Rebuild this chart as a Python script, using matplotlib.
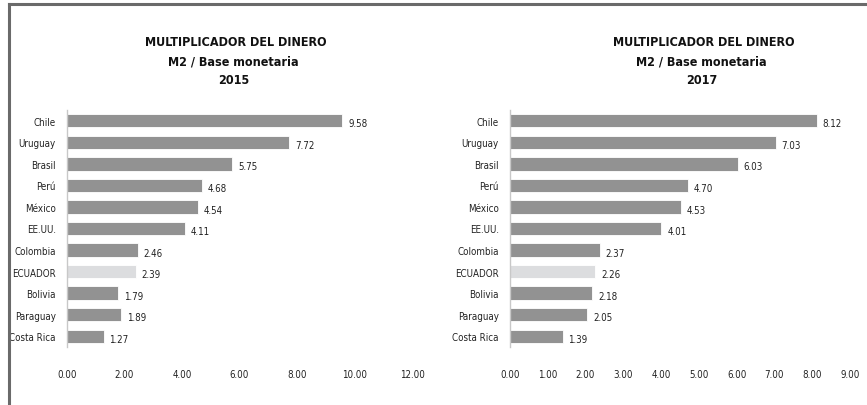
import matplotlib.pyplot as plt
from matplotlib.lines import Line2D

plt.rcParams['font.family'] = ['DejaVu Sans']
plt.rcParams['font.stretch'] = 'condensed'

paises = ['Chile', 'Uruguay', 'Brasil', 'Perú', 'México', 'EE.UU.', 'Colombia',
          'ECUADOR', 'Bolivia', 'Paraguay', 'Costa Rica']
m2_2015 = [9.58, 7.72, 5.75, 4.68, 4.54, 4.11, 2.46, 2.39, 1.79, 1.89, 1.27]
m2_2017 = [8.12, 7.03, 6.03, 4.70, 4.53, 4.01, 2.37, 2.26, 2.18, 2.05, 1.39]
ticks_2015 = [0, 2, 4, 6, 8, 10, 12]
ticks_2017 = [0, 1, 2, 3, 4, 5, 6, 7, 8, 9]

gris = '#929292'
gris_claro = '#dcdddf'

fig = plt.figure(figsize=(8.67, 4.06), dpi=100)

# marco del recuadro (izquierda y arriba)
fig.add_artist(Line2D([8.5 / 867, 8.5 / 867], [0, 1 - 5 / 406], color='#6a6a6a', lw=2.2))
fig.add_artist(Line2D([8.5 / 867, 1], [1 - 5 / 406, 1 - 5 / 406], color='#6a6a6a', lw=2.2))


def grafico(rect, valores, ticks, anio, xtitulo):
    ax = fig.add_axes(rect)
    y = list(range(len(paises)))
    colores = [gris_claro if p == 'ECUADOR' else gris for p in paises]
    ax.barh(y, valores, height=0.62, color=colores, edgecolor='white', linewidth=0.6)
    ax.set_ylim(len(paises) - 0.5, -0.5)
    ax.set_xlim(ticks[0], ticks[-1])
    ax.set_yticks(y)
    ax.set_yticklabels(paises, fontsize=7)
    ax.set_xticks(ticks)
    ax.set_xticklabels(['%.2f' % t for t in ticks], fontsize=7)
    ax.tick_params(axis='both', length=0, labelcolor='#222222')
    ax.tick_params(axis='x', pad=16)
    ax.tick_params(axis='y', pad=8)
    for s in ['top', 'right', 'bottom']:
        ax.spines[s].set_visible(False)
    ax.spines['left'].set_color('#c8c8c8')
    ax.spines['left'].set_linewidth(1.0)
    for yi, v in zip(y, valores):
        ax.text(v + (ticks[-1] - ticks[0]) * 0.017, yi + 0.12, '%.2f' % v,
                va='center', ha='left', fontsize=7, color='#222222')
    for dy, dx, txt in [(43, 0, 'MULTIPLICADOR DEL DINERO'), (62, -3, 'M2 / Base monetaria'),
                        (80, -2, anio)]:
        fig.text(xtitulo + dx / 867, 1 - dy / 406, txt, ha='center', va='center',
                 fontsize=9, fontweight='bold', color='#111111')
    return ax


grafico([67 / 867, 1 - 348 / 406, 345 / 867, 237 / 406], m2_2015, ticks_2015, '2015', 236 / 867)
grafico([510 / 867, 1 - 348 / 406, 340 / 867, 237 / 406], m2_2017, ticks_2017, '2017', 704 / 867)

fig.savefig('out.png', dpi=100)
